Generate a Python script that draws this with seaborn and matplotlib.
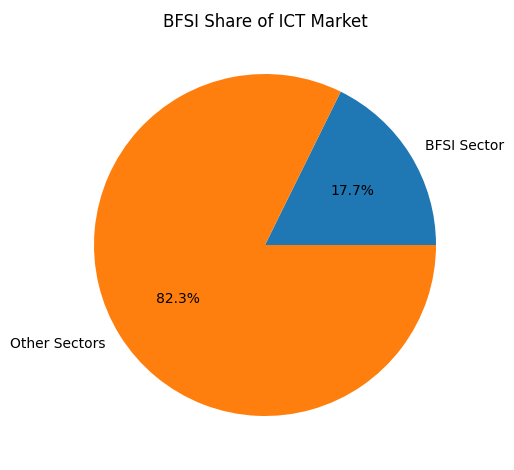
import matplotlib
matplotlib.use("Agg")
import matplotlib.pyplot as plt
import seaborn as sns

labels = ["BFSI Sector", "Other Sectors"]
values = [17.7, 82.3]

colors = sns.color_palette("tab10", 2)
fig = plt.figure(figsize=(5.14, 4.7), dpi=100)
W, H = 514, 470
side = 427.5
ax = fig.add_axes([(265 - side / 2) / W, (225 - side / 2) / H, side / W, side / H])
ax.pie(values, labels=labels, autopct="%1.1f%%", colors=colors)
ax.set_xlim(-1.25, 1.25)
ax.set_ylim(-1.25, 1.25)
ax.set_title("BFSI Share of ICT Market", pad=2)
fig.savefig("out.png", dpi=100)
